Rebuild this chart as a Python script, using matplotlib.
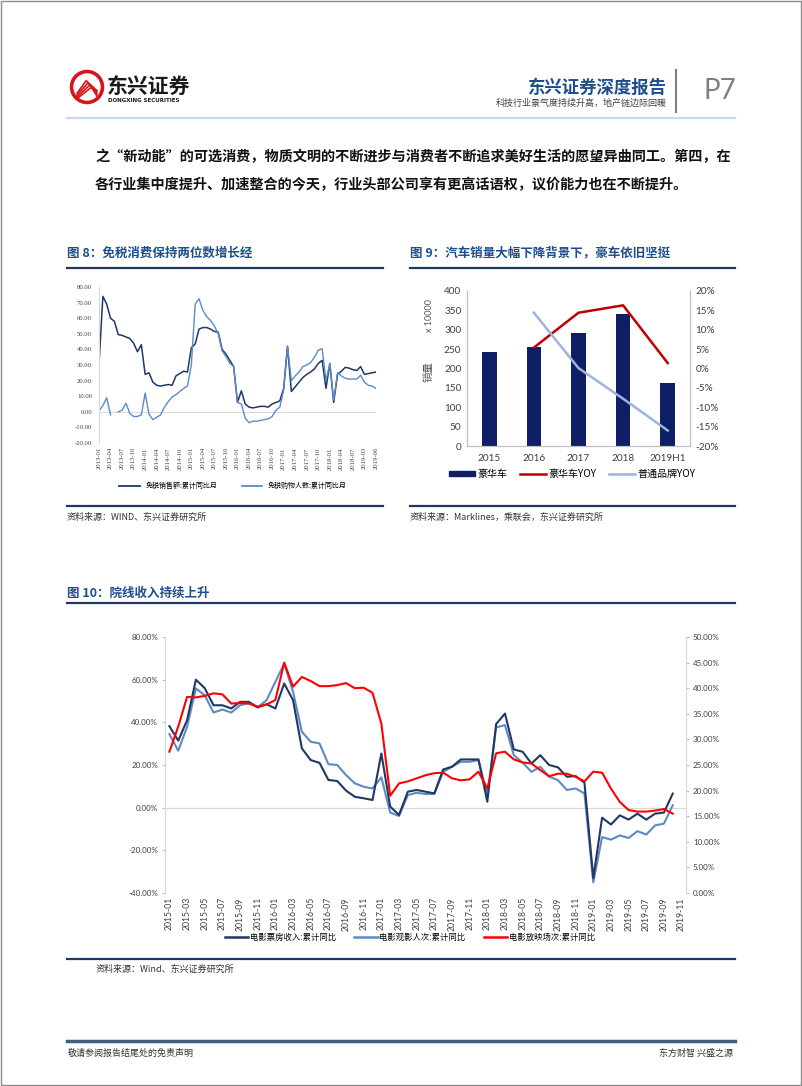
import numpy as np
import matplotlib
matplotlib.use('Agg')
import matplotlib.pyplot as plt
from matplotlib.lines import Line2D
from matplotlib.patches import Rectangle, Circle, Patch
from matplotlib.ticker import FuncFormatter

plt.rcParams['font.family'] = ['Noto Sans CJK SC', 'DejaVu Sans']
plt.rcParams['axes.unicode_minus'] = False

# ---------------- data ----------------
# 图8 免税 (monthly, ticks every 3 points)
x8_ticks = ['2013-01', '2013-04', '2013-07', '2013-10', '2014-01', '2014-04', '2014-07', '2014-10',
            '2015-01', '2015-04', '2015-07', '2015-10', '2016-01', '2016-04', '2016-07', '2016-10',
            '2017-01', '2017-04', '2017-07', '2017-10', '2018-01', '2018-04', '2018-07', '2019-03',
            '2019-06']
dutyfree_sales = [30, 74, 69, 60, 58, 49.5, 49, 48, 47, 44, 38.5, 43, 24, 25, 19, 17, 16.5, 17, 17.5, 17,
                  23, 24.5, 26, 25.5, 41, 43.5, 53, 54, 54, 53, 51.5, 51, 40, 37, 33, 29, 6, 13.5, 5, 3,
                  2.5, 3, 3.5, 3.5, 3, 5, 6, 7, 15, 42, 13, 16, 19, 22, 24, 25.5, 27.5, 31, 33, 15,
                  31, 6, 24, 26, 28.5, 28, 27, 26.5, 29, 24, 24.5, 25, 25.5]
dutyfree_people = [0.5, 4, 9, -2, np.nan, 0, 1, 5.5, -1, -3, -3, -2, 12, -1.5, -5, -3.5, -2, 3, 6.5, 9.5,
                   11, 13, 15, 16.5, 30, 69, 72.5, 65, 61, 58.5, 55, 50, 39, 35.5, 31, 29, 6, 5, -4, -7,
                   -6, -6, -5.5, -5, -4.5, -3, 1, 3, 14, 42, 20, 23, 25.5, 29, 30, 31.5, 35, 39.5, 40.5, 20,
                   31, 7.5, 25, 23, 21.5, 21, 21, 21, 23.5, 19, 17, 16.5, 15]

# 图9 汽车
years9 = ['2015', '2016', '2017', '2018', '2019H1']
lux_sales = [243, 256, 292, 340, 162]
lux_yoy = [None, 0.054, 0.144, 0.163, 0.014]
normal_yoy = [None, 0.144, 0.001, -0.078, -0.16]

# 图10 院线 (monthly from 2015-01, ticks every 2 months)
x10_ticks = ['%d-%02d' % (y, m) for y in range(2015, 2020) for m in range(1, 13, 2)]
box_office = [38.2, 31.4, 41, 60, 56, 48, 48, 46.5, 49.6, 49.6, 47, 48.5, 46.5, 58.2, 50.4, 27.8, 22.3,
              21, 13, 12.5, 8, 5.1, 4.4, 3.6, 25.4, 0.5, -3.4, 7.5, 8.3, 7.5, 6.7, 17.9, 19.2, 22.6,
              22.6, 22.6, 2.8, 39.2, 44.1, 27.3, 26.2, 20.7, 24.6, 20, 18.9, 14.5, 14.8, 11.7, -33,
              -4.7, -7.9, -3.6, -5.6, -2.8, -5.6, -2.8, -2.3, 6.6]
audience = [34.5, 26.7, 37.9, 55.9, 52.7, 44.6, 46, 44.6, 48, 49.1, 47, 50.4, 59, 67.5, 54.3, 35.6, 30.9,
            30.1, 20.4, 20, 15.3, 11.4, 9.8, 9, 14.2, -2.3, -3.9, 5.9, 7, 6.4, 6.4, 16.8, 19.2, 21.5,
            21.5, 22.3, 6, 37.6, 38.7, 24.6, 21.1, 16.8, 19.2, 14.5, 12.9, 8.3, 9, 6.7, -35,
            -13.8, -15, -13, -14.2, -11, -12.6, -8.3, -7.5, 1.1]
screenings = [27.6, 32.5, 38.3, 38.2, 38.5, 39.0, 38.8, 37.0, 37.1, 37.0, 36.4, 36.8, 37.7, 45.0, 40.3,
              42.2, 41.4, 40.4, 40.4, 40.6, 41.0, 40.0, 40.1, 39.1, 33.1, 19.0, 21.4, 21.8, 22.4, 23.0,
              23.4, 23.5, 22.4, 22.0, 22.2, 23.7, 20.4, 27.3, 27.6, 26.1, 25.5, 25.3, 24.0, 22.8, 23.3,
              23.3, 22.7, 21.8, 23.7, 23.5, 20.4, 17.8, 16.2, 15.9, 15.9, 16.1, 16.4, 15.5]

W, H = 802, 1086


def fx(x):
    return x / W


def fy(y):
    return 1 - y / H


def box(x0, y0, x1, y1):
    return [fx(x0), fy(y1), (x1 - x0) / W, (y1 - y0) / H]


def hline(x0, x1, y, color, lw):
    fig.add_artist(Line2D([fx(x0), fx(x1)], [fy(y), fy(y)], transform=fig.transFigure,
                          color=color, lw=lw))


fig = plt.figure(figsize=(W / 100, H / 100), dpi=100)
fig.patch.set_facecolor('white')
fig.add_artist(Rectangle((0.001, 0.001), 0.998, 0.998, transform=fig.transFigure,
                         fill=False, edgecolor='#8c8c8c', lw=1))

# ---------------- header ----------------
lax = fig.add_axes(box(68, 69, 106, 105))
lax.set_xlim(-1, 1)
lax.set_ylim(-1, 1)
lax.set_aspect('equal')
lax.axis('off')
lax.add_patch(Circle((0, 0), 0.92, color='#d7141a'))
lax.add_patch(Circle((0, 0), 0.72, color='white'))
for k in range(4):
    lax.plot([-0.55, -0.05 + 0.1 * k, 0.55], [-0.35 - 0.1 * k, 0.35 - 0.12 * k, -0.2 - 0.1 * k],
             color='#d7141a', lw=1.2)
fig.text(fx(107), fy(86), '东兴证券', fontsize=15, fontweight='bold', color='#1a1a1a', va='center')
fig.text(fx(108), fy(100), 'DONGXING SECURITIES', fontsize=4, fontweight='bold', color='#1a1a1a',
         va='center', family='DejaVu Sans')
fig.text(fx(667), fy(88), '东兴证券深度报告', fontsize=12.5, fontweight='bold', color='#1f4e8c',
         ha='right', va='center')
fig.text(fx(667), fy(103), '科技行业景气度持续升高，地产链边际回暖', fontsize=6.5, color='#404040',
         ha='right', va='center')
fig.add_artist(Line2D([fx(676), fx(676)], [fy(70), fy(112)], transform=fig.transFigure,
                      color='#7f7f7f', lw=1.5))
fig.text(fx(703), fy(91), 'P7', fontsize=20, color='#7f7f7f', va='center', family='Lato')
hline(67, 735, 118, '#c9d8ee', 1.6)

# ---------------- body text ----------------
fig.text(fx(95), fy(157), '之“新动能”的可选消费，物质文明的不断进步与消费者不断追求美好生活的愿望异曲同工。第四，在',
         fontsize=10.2, fontweight='bold', color='#111111', va='center')
fig.text(fx(95), fy(185), '各行业集中度提升、加速整合的今天，行业头部公司享有更高话语权，议价能力也在不断提升。',
         fontsize=10.2, fontweight='bold', color='#111111', va='center')

title_c = '#1f4e8c'
line_c = '#1f3864'
fig.text(fx(67), fy(253), '图 8：免税消费保持两位数增长经', fontsize=9, fontweight='bold', color=title_c,
         va='center')
fig.text(fx(410), fy(253), '图 9：汽车销量大幅下降背景下，豪车依旧坚挺', fontsize=9, fontweight='bold',
         color=title_c, va='center')
hline(67, 383, 268, line_c, 1.6)
hline(410, 735, 268, line_c, 1.6)

# ---------------- chart 8 ----------------
ax8 = fig.add_axes(box(99, 287, 376, 443))
x8 = np.arange(len(dutyfree_sales))
ax8.plot(x8, dutyfree_sales, color='#1f3864', lw=1.1)
ax8.plot(x8, dutyfree_people, color='#5b8bc9', lw=1.0)
ax8.axhline(0, color='#d9d9d9', lw=0.8, zorder=0)
ax8.set_xlim(0, 72)
ax8.set_ylim(-20, 80)
ax8.set_yticks(range(-20, 81, 10))
ax8.yaxis.set_major_formatter(FuncFormatter(lambda v, p: '%.2f' % v))
ax8.set_xticks(range(0, 73, 3))
ax8.set_xticklabels(x8_ticks, rotation=90)
for lab in ax8.get_xticklabels() + ax8.get_yticklabels():
    lab.set_family('Liberation Serif')
    lab.set_fontsize(4.8)
    lab.set_color('#404040')
ax8.tick_params(axis='x', length=0, pad=3)
ax8.tick_params(axis='y', length=0, pad=5)
for s in ['top', 'right', 'bottom']:
    ax8.spines[s].set_visible(False)
ax8.spines['left'].set_color('#d9d9d9')
ax8.set_facecolor('none')
h8 = [Line2D([], [], color='#1f3864', lw=1.3), Line2D([], [], color='#5b8bc9', lw=1.3)]
ax8.legend(h8, ['免税销售额:累计同比月', '免税购物人数:累计同比月'], loc='center',
           bbox_to_anchor=(fx(233), fy(486)), bbox_transform=fig.transFigure, ncol=2,
           frameon=False, fontsize=5, handlelength=3, columnspacing=3.5)

# ---------------- chart 9 ----------------
ax9 = fig.add_axes(box(467, 291, 690, 446))
x9 = np.arange(len(years9))
ax9.bar(x9, lux_sales, width=0.33, color='#0f1f66', zorder=2)
ax9.set_xlim(-0.5, 4.5)
ax9.set_ylim(0, 400)
ax9.set_yticks(range(0, 401, 50))
ax9.set_xticks(x9)
ax9.set_xticklabels(years9)
ax9r = ax9.twinx()
ax9r.plot(x9[1:], lux_yoy[1:], color='#c00000', lw=1.8)
ax9r.plot(x9[1:], normal_yoy[1:], color='#9bb5dc', lw=1.8)
ax9r.set_ylim(-0.2, 0.2)
ax9r.set_yticks(np.arange(-0.2, 0.201, 0.05))
ax9r.yaxis.set_major_formatter(FuncFormatter(lambda v, p: '%d%%' % round(v * 100)))
for a in (ax9, ax9r):
    for s in ['top']:
        a.spines[s].set_visible(False)
    for s in ['left', 'right', 'bottom']:
        a.spines[s].set_color('#bfbfbf')
    a.tick_params(length=0, labelsize=7.2, labelcolor='#404040', pad=4)
    for lab in a.get_xticklabels() + a.get_yticklabels():
        lab.set_family('Lato')
ax9.tick_params(axis='x', pad=6)
fig.text(fx(429), fy(372), '销量', rotation=90, fontsize=7.5, color='#595959', ha='center', va='center')
fig.text(fx(429), fy(316), 'x 10000', rotation=90, fontsize=6.5, color='#595959', ha='center',
         va='center', family='Lato')
h9 = [Patch(color='#0f1f66'), Line2D([], [], color='#c00000', lw=1.8),
      Line2D([], [], color='#9bb5dc', lw=1.8)]
ax9.legend(h9, ['豪华车', '豪华车YOY', '普通品牌YOY'], loc='center',
           bbox_to_anchor=(fx(572), fy(474)), bbox_transform=fig.transFigure, ncol=3,
           frameon=False, fontsize=7.2, handlelength=2.6, handleheight=0.5, columnspacing=1.2,
           handletextpad=0.3)

hline(67, 383, 506, line_c, 1.6)
hline(410, 735, 506, line_c, 1.6)
fig.text(fx(67), fy(517), '资料来源：WIND、东兴证券研究所', fontsize=6.5, color='#333333', va='center',
         style='italic')
fig.text(fx(410), fy(517), '资料来源：Marklines，乘联会，东兴证券研究所', fontsize=6.5, color='#333333',
         va='center', style='italic')

# ---------------- chart 10 ----------------
fig.text(fx(67), fy(593), '图 10：院线收入持续上升', fontsize=9, fontweight='bold', color=title_c,
         va='center')
hline(67, 735, 603, line_c, 1.6)

ax10 = fig.add_axes(box(165, 637, 686, 893))
x10 = np.arange(len(box_office))
ax10.plot(x10, box_office, color='#1f3864', lw=1.5, zorder=3)
ax10.plot(x10, audience, color='#5d8ac4', lw=1.5, zorder=2)
ax10.axhline(0, color='#d9d9d9', lw=0.9, zorder=0)
ax10.set_xlim(-0.5, 58.5)
ax10.set_ylim(-40, 80)
ax10.set_yticks(range(-40, 81, 20))
ax10.yaxis.set_major_formatter(FuncFormatter(lambda v, p: '%.2f%%' % v))
ax10.set_xticks(range(0, 59, 2))
ax10.set_xticklabels(x10_ticks, rotation=90)
ax10r = ax10.twinx()
ax10r.plot(x10, screenings, color='#ff0000', lw=1.5)
ax10r.set_ylim(0, 50)
ax10r.set_yticks(range(0, 51, 5))
ax10r.yaxis.set_major_formatter(FuncFormatter(lambda v, p: '%.2f%%' % v))
for a in (ax10, ax10r):
    for s in ['top', 'bottom']:
        a.spines[s].set_visible(False)
    for s in ['left', 'right']:
        a.spines[s].set_color('#d9d9d9')
    a.tick_params(axis='y', length=2, color='#bfbfbf', labelsize=5.8, labelcolor='#404040', pad=3)
    for lab in a.get_xticklabels() + a.get_yticklabels():
        lab.set_family('Lato')
ax10.tick_params(axis='x', length=0, labelsize=6.2, labelcolor='#404040', pad=3)
h10 = [Line2D([], [], color='#1f3864', lw=1.8), Line2D([], [], color='#5d8ac4', lw=1.8),
       Line2D([], [], color='#ff0000', lw=1.8)]
ax10.legend(h10, ['电影票房收入:累计同比', '电影观影人次:累计同比', '电影放映场次:累计同比'],
            loc='center', bbox_to_anchor=(fx(410), fy(937)), bbox_transform=fig.transFigure,
            ncol=3, frameon=False, fontsize=6, handlelength=2.8, columnspacing=2.2,
            handletextpad=0.2)

hline(67, 735, 959, line_c, 1.6)
fig.text(fx(96), fy(969), '资料来源：Wind、东兴证券研究所', fontsize=6.5, color='#333333', va='center',
         style='italic')

# ---------------- footer ----------------
hline(67, 735, 1041, '#3d5f82', 2.5)
fig.text(fx(68), fy(1053), '敬请参阅报告结尾处的免责声明', fontsize=6.5, color='#333333', va='center')
fig.text(fx(733), fy(1053), '东方财智 兴盛之源', fontsize=6.5, color='#333333', va='center', ha='right')

fig.savefig('out.png', dpi=100)
